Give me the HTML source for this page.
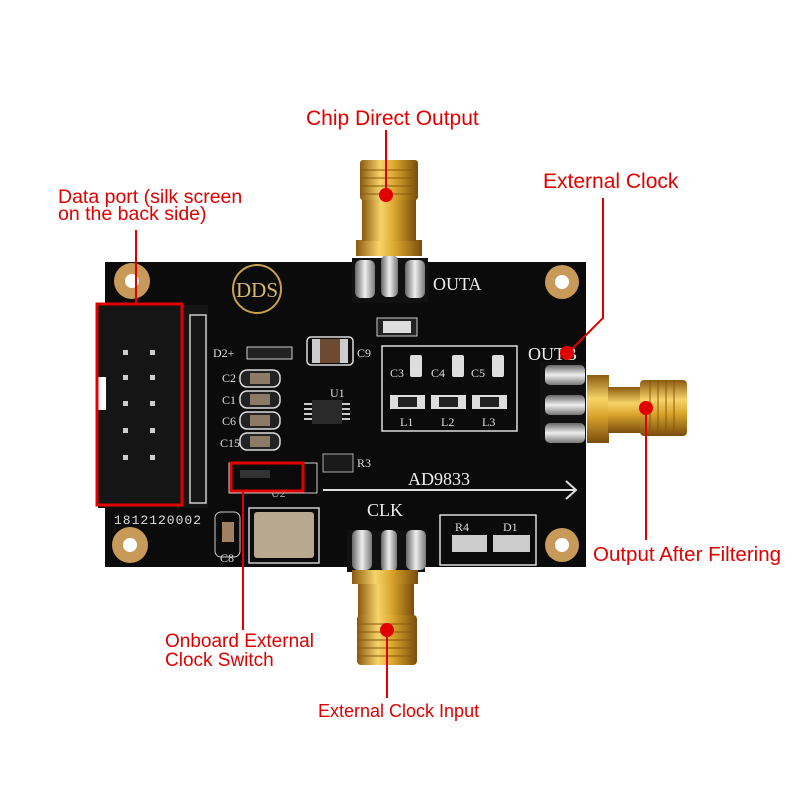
<!DOCTYPE html>
<html><head><style>html,body{margin:0;padding:0;background:#fff}svg{display:block}</style></head>
<body>
<svg width="800" height="800" viewBox="0 0 800 800" xmlns="http://www.w3.org/2000/svg" font-family="Liberation Serif, serif">
<defs>
<linearGradient id="gv" x1="0" x2="1" y1="0" y2="0"><stop offset="0" stop-color="#8a5a10"/><stop offset="0.35" stop-color="#f6d468"/><stop offset="0.6" stop-color="#d9a52c"/><stop offset="1" stop-color="#7a4c0c"/></linearGradient>
<linearGradient id="gh" x1="0" x2="0" y1="0" y2="1"><stop offset="0" stop-color="#8a5a10"/><stop offset="0.35" stop-color="#f6d468"/><stop offset="0.6" stop-color="#d9a52c"/><stop offset="1" stop-color="#7a4c0c"/></linearGradient>
<linearGradient id="pin" x1="0" x2="1"><stop offset="0" stop-color="#666"/><stop offset="0.5" stop-color="#eee"/><stop offset="1" stop-color="#777"/></linearGradient>
<linearGradient id="pinh" x1="0" x2="0" y1="0" y2="1"><stop offset="0" stop-color="#666"/><stop offset="0.5" stop-color="#eee"/><stop offset="1" stop-color="#777"/></linearGradient>
</defs>
<rect x="105" y="262" width="481" height="305" fill="#0b0b0b"/>
<g fill="#c89a5a"><circle cx="132" cy="281" r="18"/><circle cx="562" cy="282" r="17"/><circle cx="130" cy="545" r="18"/><circle cx="562" cy="545" r="17"/></g>
<g fill="#fff"><circle cx="132" cy="281" r="7"/><circle cx="562" cy="282" r="7"/><circle cx="130" cy="545" r="7"/><circle cx="562" cy="545" r="7"/></g>
<circle cx="257" cy="289" r="24" fill="none" stroke="#c8a050" stroke-width="2"/>
<text x="257" y="297" font-size="21" fill="#d8b870" text-anchor="middle">DDS</text>
<rect x="98" y="305" width="110" height="203" fill="#151515"/>
<rect x="190" y="315" width="16" height="188" fill="none" stroke="#ccc" stroke-width="1.5"/>
<rect x="96" y="377" width="10" height="33" fill="#fff"/>
<g fill="#ccc"><rect x="123" y="350" width="5" height="5"/><rect x="150" y="350" width="5" height="5"/><rect x="123" y="375" width="5" height="5"/><rect x="150" y="375" width="5" height="5"/><rect x="123" y="401" width="5" height="5"/><rect x="150" y="401" width="5" height="5"/><rect x="123" y="428" width="5" height="5"/><rect x="150" y="428" width="5" height="5"/><rect x="123" y="455" width="5" height="5"/><rect x="150" y="455" width="5" height="5"/></g>
<rect x="97" y="304" width="85" height="201" fill="none" stroke="#e00000" stroke-width="3"/>
<text x="114" y="524" font-size="13" fill="#ddd" font-family="Liberation Mono, monospace" letter-spacing="1">1812120002</text>
<g fill="#ddd" font-size="12">
<text x="213" y="357">D2+</text><text x="222" y="382">C2</text><text x="222" y="404">C1</text><text x="222" y="425">C6</text><text x="220" y="447">C15</text>
<text x="357" y="357">C9</text><text x="330" y="397">U1</text><text x="357" y="467">R3</text>
<text x="390" y="377">C3</text><text x="431" y="377">C4</text><text x="471" y="377">C5</text>
<text x="400" y="426">L1</text><text x="441" y="426">L2</text><text x="482" y="426">L3</text>
<text x="271" y="497" fill="#aaa">U2</text><text x="220" y="562">C8</text>
<text x="455" y="531">R4</text><text x="503" y="531">D1</text>
</g>
<text x="433" y="290" font-size="18" fill="#eee">OUTA</text>
<text x="528" y="360" font-size="18" fill="#eee">OUTB</text>
<text x="408" y="485" font-size="18" fill="#eee">AD9833</text>
<text x="367" y="516" font-size="18" fill="#eee">CLK</text>
<path d="M323 490 H575 M566 481 L576 490 L566 499" stroke="#ddd" stroke-width="2" fill="none"/>
<rect x="247" y="347" width="45" height="12" fill="#222" stroke="#ccc"/>
<rect x="307" y="337" width="46" height="28" rx="4" fill="none" stroke="#ddd" stroke-width="1.5"/>
<rect x="312" y="339" width="36" height="24" fill="#ccc"/><rect x="320" y="339" width="20" height="24" fill="#6e4a30"/>
<g stroke="#ddd" stroke-width="1.5" fill="#222">
<rect x="240" y="370" width="40" height="17" rx="7"/><rect x="240" y="391" width="40" height="17" rx="7"/><rect x="240" y="412" width="40" height="17" rx="7"/><rect x="240" y="433" width="40" height="17" rx="7"/>
</g>
<g fill="#8a7a66"><rect x="250" y="373" width="20" height="11"/><rect x="250" y="394" width="20" height="11"/><rect x="250" y="415" width="20" height="11"/><rect x="250" y="436" width="20" height="11"/></g>
<rect x="312" y="400" width="30" height="24" fill="#2a2a2a"/>
<g stroke="#ccc" stroke-width="2"><path d="M304 404h8M304 409h8M304 414h8M304 419h8M342 404h8M342 409h8M342 414h8M342 419h8"/></g>
<rect x="323" y="454" width="30" height="18" fill="#1a1a1a" stroke="#aaa"/>
<rect x="377" y="318" width="40" height="18" fill="#222" stroke="#ccc"/><rect x="383" y="321" width="28" height="12" fill="#ddd"/>
<rect x="382" y="346" width="135" height="85" fill="none" stroke="#ddd" stroke-width="1.5"/>
<g fill="#ddd"><rect x="410" y="355" width="12" height="22" rx="2"/><rect x="452" y="355" width="12" height="22" rx="2"/><rect x="492" y="355" width="12" height="22" rx="2"/>
<rect x="390" y="395" width="35" height="14"/><rect x="431" y="395" width="35" height="14"/><rect x="472" y="395" width="35" height="14"/></g>
<g fill="#222"><rect x="398" y="397" width="19" height="10"/><rect x="439" y="397" width="19" height="10"/><rect x="480" y="397" width="19" height="10"/></g>
<rect x="229" y="463" width="88" height="30" fill="none" stroke="#ccc"/>
<rect x="240" y="470" width="30" height="8" fill="#333"/>
<rect x="249" y="508" width="70" height="55" fill="none" stroke="#ccc" stroke-width="1.5"/>
<rect x="254" y="512" width="60" height="46" rx="3" fill="#b8a890"/>
<rect x="215" y="512" width="25" height="45" rx="6" fill="none" stroke="#ccc"/><rect x="222" y="522" width="12" height="20" fill="#a08060"/>
<rect x="440" y="515" width="96" height="50" fill="none" stroke="#ddd" stroke-width="1.5"/>
<rect x="452" y="535" width="35" height="17" fill="#ccc"/><rect x="493" y="535" width="37" height="17" fill="#ccc"/>
<rect x="231" y="463" width="72" height="28" fill="none" stroke="#e00000" stroke-width="3"/>
<rect x="352" y="258" width="76" height="45" fill="#111"/>
<rect x="355" y="260" width="20" height="38" rx="6" fill="url(#pin)"/><rect x="381" y="255" width="17" height="42" rx="6" fill="url(#pin)"/><rect x="405" y="260" width="20" height="38" rx="6" fill="url(#pin)"/>
<rect x="356" y="240" width="66" height="16" fill="url(#gv)"/>
<rect x="362" y="195" width="54" height="46" fill="url(#gv)"/>
<rect x="360" y="160" width="58" height="40" rx="3" fill="url(#gv)"/>
<g stroke="#8a5a10" stroke-width="2" opacity=".5"><path d="M360 170h58M360 178h58M360 186h58M360 194h58"/></g>
<rect x="540" y="362" width="46" height="78" fill="#111"/>
<rect x="545" y="365" width="40" height="20" rx="5" fill="url(#pinh)"/><rect x="545" y="395" width="40" height="20" rx="5" fill="url(#pinh)"/><rect x="545" y="423" width="40" height="20" rx="5" fill="url(#pinh)"/>
<rect x="587" y="375" width="22" height="68" fill="url(#gh)"/>
<rect x="608" y="387" width="40" height="46" fill="url(#gh)"/>
<rect x="640" y="380" width="47" height="56" rx="4" fill="url(#gh)"/>
<g stroke="#8a5a10" stroke-width="2" opacity=".5"><path d="M650 380v56M658 380v56M666 380v56M674 380v56"/></g>
<rect x="347" y="530" width="78" height="42" fill="#111"/>
<rect x="352" y="530" width="20" height="40" rx="6" fill="url(#pin)"/><rect x="381" y="530" width="16" height="42" rx="6" fill="url(#pin)"/><rect x="406" y="530" width="20" height="40" rx="6" fill="url(#pin)"/>
<rect x="352" y="570" width="66" height="14" fill="url(#gv)"/>
<rect x="358" y="584" width="56" height="35" fill="url(#gv)"/>
<rect x="357" y="615" width="60" height="50" rx="4" fill="url(#gv)"/>
<g stroke="#8a5a10" stroke-width="2" opacity=".5"><path d="M357 624h60M357 632h60M357 640h60M357 648h60M357 656h60"/></g>
<g stroke="#e00000" stroke-width="2" fill="none">
<path d="M386 130V195"/><path d="M603 198V318L568 353"/><path d="M136 230V303"/><path d="M646 408V540"/><path d="M243 491V630"/><path d="M387 630V698"/>
</g>
<g fill="#e00000"><circle cx="386" cy="195" r="7"/><circle cx="567" cy="353" r="7"/><circle cx="646" cy="408" r="7"/><circle cx="387" cy="630" r="7"/></g>
<g fill="#e00000" font-family="Liberation Sans, sans-serif">
<text x="306" y="125" font-size="21">Chip Direct Output</text>
<text x="543" y="188" font-size="21">External Clock</text>
<text x="58" y="203" font-size="19.5">Data port (silk screen</text>
<text x="58" y="220" font-size="19.5">on the back side)</text>
<text x="593" y="561" font-size="20.5">Output After Filtering</text>
<text x="165" y="647" font-size="19">Onboard External</text>
<text x="165" y="666" font-size="19">Clock Switch</text>
<text x="318" y="717" font-size="18">External Clock Input</text>
</g>
</svg>
</body></html>
